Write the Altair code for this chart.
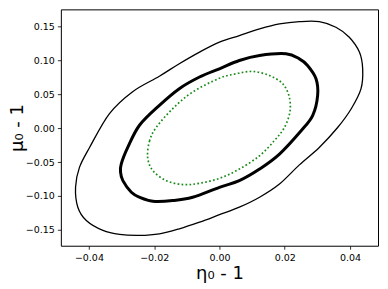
import altair as alt
import pandas as pd

# Contour points (eta0 - 1, mu0 - 1)
outer_x = [-0.0441, -0.0429, -0.0398, -0.0337, -0.0266, -0.0184, -0.0123, -0.0061, 0.0,
           0.0061, 0.0123, 0.0184, 0.0245, 0.0306, 0.0357, 0.0398, 0.0429, 0.0439, 0.0434,
           0.0404, 0.0361, 0.0306, 0.0245, 0.0184, 0.0123, 0.0061, 0.0, -0.0061, -0.0123,
           -0.0184, -0.0245, -0.0306, -0.0357, -0.0408, -0.0434]
outer_y = [-0.0872, -0.0578, -0.0284, 0.0216, 0.0540, 0.0768, 0.0952, 0.1124, 0.1271,
           0.1368, 0.1466, 0.1540, 0.1574, 0.1574, 0.1491, 0.1344, 0.1124, 0.0878, 0.0584,
           0.0288, 0.0003, -0.0284, -0.0541, -0.0824, -0.1019, -0.1166, -0.1277, -0.1387, -0.1485,
           -0.1559, -0.1582, -0.1568, -0.1509, -0.1362, -0.1166]

mid_x = [-0.0281, -0.0301, -0.0303, -0.0296, -0.0270, -0.0245, -0.0204, -0.0143, -0.0082, 0.0,
         0.0061, 0.0123, 0.0184, 0.0251, 0.0286, 0.0301, 0.0296, 0.0270, 0.0245,
         0.0204, 0.0123, 0.0061, 0.0, -0.0061, -0.0123, -0.0184, -0.0245]
mid_y = [-0.0284, -0.0529, -0.0652, -0.0774, -0.0946, -0.1019, -0.1078, -0.1068, -0.1019, -0.0872,
         -0.0774, -0.0603, -0.0382, -0.0034, 0.0191, 0.0485, 0.0731, 0.0927, 0.1025,
         0.1099, 0.1074, 0.1000, 0.0878, 0.0756, 0.0584, 0.0338, 0.0044]

inner_x = [-0.0194, -0.0214, -0.0220, -0.0204, -0.0163, -0.0112, -0.0061, 0.0, 0.0061, 0.0123,
           0.0168, 0.0199, 0.0216, 0.0214, 0.0194, 0.0153, 0.0102, 0.0051, 0.0, -0.0082, -0.0143]
inner_y = [0.0010, -0.0185, -0.0431, -0.0627, -0.0774, -0.0832, -0.0813, -0.0740, -0.0603, -0.0406,
           -0.0185, 0.0010, 0.0241, 0.0462, 0.0657, 0.0779, 0.0838, 0.0804, 0.0738, 0.0535, 0.0290]

x_ticks = [-0.04, -0.02, 0.0, 0.02, 0.04]
y_ticks = [-0.15, -0.10, -0.05, 0.0, 0.05, 0.10, 0.15]


def table(xs, ys, name):
    return pd.DataFrame({"x": xs, "y": ys, "o": list(range(len(xs))), "c": name})


xs = alt.Scale(domain=[-0.0486, 0.0486], nice=False, zero=False)
ys = alt.Scale(domain=[-0.1735, 0.1755], nice=False, zero=False)

X = alt.X("x:Q", scale=xs, title="η₀ - 1",
          axis=alt.Axis(values=x_ticks, format=".2f", grid=False,
                        titleX=159, titleY=33, titleBaseline="alphabetic"))
Y = alt.Y("y:Q", scale=ys, title="μ₀ - 1",
          axis=alt.Axis(values=y_ticks, format=".2f", grid=False,
                        titleX=-38, titleY=118.5, titleBaseline="alphabetic"))

outer = alt.Chart(table(outer_x, outer_y, "outer")).mark_line(
    color="black", strokeWidth=1.3, interpolate="cardinal-closed").encode(x=X, y=Y, order="o:Q")
mid = alt.Chart(table(mid_x, mid_y, "mid")).mark_line(
    color="black", strokeWidth=3, interpolate="cardinal-closed").encode(x=X, y=Y, order="o:Q")
inner = alt.Chart(table(inner_x, inner_y, "inner")).mark_line(
    color="#1a8a1a", strokeWidth=1.7, strokeDash=[1.7, 2.3],
    interpolate="cardinal-closed").encode(x=X, y=Y, order="o:Q")

chart = alt.layer(outer, mid, inner).properties(
    width=318, height=237,
    autosize=alt.AutoSizeParams(type="none"),
    padding={"left": 53, "top": 1, "right": 2, "bottom": 40},
).configure_view(
    stroke="black", strokeWidth=1
).configure_axis(
    domain=False,
    tickColor="black", tickSize=3.5, tickWidth=0.8,
    labelFont="DejaVu Sans", labelFontSize=9.5, labelColor="black", labelPadding=3,
    titleFont="DejaVu Sans", titleFontSize=18, titleFontWeight="normal", titleColor="black",
)

chart.save("out.html", embed_options={"renderer": "svg", "actions": False})
